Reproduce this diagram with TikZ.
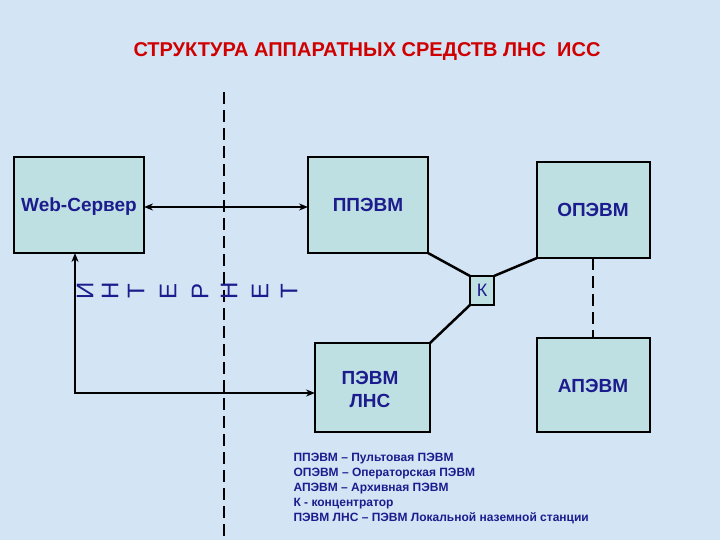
\documentclass[tikz,border=0pt]{standalone}
\usepackage{fontspec}
\usetikzlibrary{arrows.meta}
\setmainfont{Liberation Sans}
\definecolor{bg}{HTML}{D3E5F5}
\definecolor{boxc}{HTML}{BFE0E2}
\definecolor{navy}{HTML}{1C1C8E}
\definecolor{tred}{HTML}{D00000}
\begin{document}
\begin{tikzpicture}[x=1pt,y=-1pt,
  bx/.style={draw=black,line width=2.5pt,fill=boxc},
  lbl/.style={text=navy,font=\bfseries\fontsize{19}{23}\selectfont,align=center},
  ln/.style={line width=2.5pt},
  arr/.style={line width=1.6pt,{Stealth[length=9pt,width=7pt]}-{Stealth[length=9pt,width=7pt]}}]
\fill[bg] (0,0) rectangle (720,540);
\useasboundingbox (0,0) rectangle (720,540);
\node[text=tred,font=\bfseries\fontsize{20}{24}\selectfont] (title) at (367,52) {СТРУКТУРА АППАРАТНЫХ СРЕДСТВ ЛНС\ \ ИСС};
\draw[line width=1.5pt,dash pattern=on 12pt off 6pt] (224,92) -- (224,540);
\draw[bx] (14,157) rectangle (144,253);
\node[lbl] (web) at (79,207) {Web-Сервер};
\coordinate (webR) at (144,207); \coordinate (webB) at (75,253);
\draw[bx] (308,157) rectangle (428,253);
\node[lbl] (pp) at (368,205) {ППЭВМ};
\coordinate (ppL) at (308,207); \coordinate (ppBR) at (428,253);
\draw[bx] (537,162) rectangle (650,258);
\node[lbl] (op) at (593,210) {ОПЭВМ};
\coordinate (opBL) at (537,258); \coordinate (opB) at (593,258);
\draw[bx] (470,276) rectangle (494,305);
\node[text=navy,font=\fontsize{18}{20}\selectfont] (k) at (482,290) {К};
\coordinate (kTL) at (470,276); \coordinate (kTR) at (494,276); \coordinate (kBL) at (470,305);
\draw[bx] (315,343) rectangle (430,432);
\node[lbl] (pl) at (370,389) {ПЭВМ\\ЛНС};
\coordinate (plL) at (315,393); \coordinate (plTR) at (430,343);
\draw[bx] (537,338) rectangle (650,432);
\node[lbl] (ap) at (593,386) {АПЭВМ};
\coordinate (apT) at (593,338);
\draw[ln] (ppBR) -- (kTL);
\draw[ln] (kTR) -- (opBL);
\draw[ln] (plTR) -- (kBL);
\draw[line width=1.5pt,dash pattern=on 12pt off 6pt] (opB) -- (apT);
\draw[arr] (webR) -- (ppL);
\coordinate (cor) at (75,393);
\draw[arr] (webB) -- (cor) -- (plL);
\foreach \ch/\xx [count=\i] in {И/85,Н/110,Т/136,Е/168,Р/200,Н/229,Е/260,Т/289}
  \node[text=navy,rotate=90,font=\fontsize{24}{26}\selectfont] (i\i) at (\xx,291) {\ch};
\node[text=navy,font=\bfseries\fontsize{12}{15}\selectfont,align=left,anchor=north west] (leg) at (290,450)
 {ППЭВМ -- Пультовая ПЭВМ\\ОПЭВМ -- Операторская ПЭВМ\\АПЭВМ -- Архивная ПЭВМ\\К - концентратор\\ПЭВМ ЛНС -- ПЭВМ Локальной наземной станции};
\end{tikzpicture}
\end{document}
